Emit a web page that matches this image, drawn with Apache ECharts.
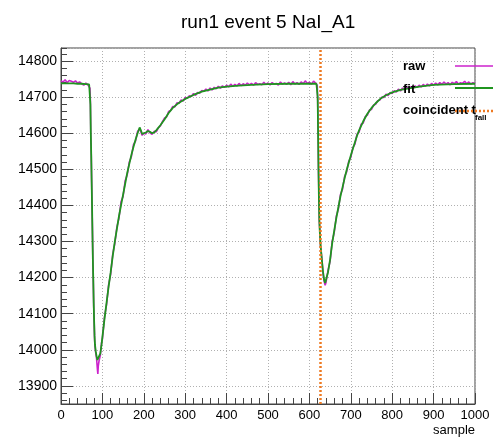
<!DOCTYPE html>
<html>
<head>
<meta charset="utf-8">
<script src="https://cdn.jsdelivr.net/npm/echarts@6/dist/echarts.min.js"></script>
<style>html,body{margin:0;padding:0;background:#fff;}#c{width:493px;height:437px;}</style>
</head>
<body>
<div id="c"></div>
<script>
var titleText = 'run1 event 5 NaI_A1';
var xTitle = 'sample';
var legendNames = ['raw', 'fit', 'coincident t'];
var tFall = 626;

var rawSamples = [0,5,10,15,20,25,30,35,40,45,50,55,60,65,68,70,71,72,73,74,75,76,77,78,79,80,81,82,84,86,88,89,90,92,95,98,100,105,110,115,120,125,130,135,140,145,150,155,160,165,170,175,180,185,190,193,196,200,205,210,215,220,225,230,235,240,245,250,255,260,265,270,275,280,285,290,295,300,305,310,315,320,325,330,335,340,345,350,355,360,365,370,375,380,385,390,395,400,405,410,415,420,425,430,435,440,445,450,455,460,465,470,475,480,485,490,495,500,505,510,515,520,525,530,535,540,545,550,555,560,565,570,575,580,585,590,595,600,605,610,615,617,619,620,621,622,623,624,625,627,630,633,636,638,640,645,650,655,660,665,670,675,680,685,690,695,700,705,710,715,720,725,730,735,740,745,750,755,760,765,770,775,780,785,790,795,800,805,810,815,820,825,830,835,840,845,850,855,860,865,870,875,880,885,890,895,900,905,910,915,920,925,930,935,940,945,950,955,960,965,970,975,980,985,990,995,1000];
var rawValues = [14745,14742,14748,14740,14746,14744,14741,14745,14739,14742,14737,14733,14739,14734,14737,14725,14690,14590,14545,14465,14395,14330,14240,14195,14120,14085,14035,14010,13990,13975,13945,13933,13955,13970,13985,14020,14030,14090,14125,14180,14210,14265,14295,14340,14365,14410,14425,14468,14485,14520,14535,14568,14578,14605,14612,14604,14594,14600,14598,14610,14601,14597,14605,14604,14615,14620,14632,14642,14645,14660,14663,14674,14673,14684,14683,14692,14689,14699,14697,14704,14702,14710,14705,14713,14711,14718,14716,14722,14717,14725,14720,14727,14723,14730,14725,14731,14727,14733,14728,14736,14730,14735,14731,14738,14732,14737,14733,14739,14734,14738,14733,14740,14735,14737,14734,14741,14735,14739,14734,14740,14736,14738,14733,14742,14736,14739,14735,14741,14734,14743,14736,14740,14735,14742,14737,14745,14738,14741,14736,14744,14739,14740,14732,14690,14610,14490,14425,14355,14335,14285,14255,14210,14188,14179,14186,14220,14245,14300,14325,14370,14390,14430,14445,14480,14493,14522,14533,14560,14570,14597,14603,14625,14628,14646,14650,14664,14666,14678,14680,14690,14692,14700,14699,14708,14704,14713,14710,14718,14714,14722,14717,14725,14720,14728,14722,14729,14724,14731,14727,14733,14728,14735,14730,14736,14731,14738,14733,14739,14734,14740,14735,14742,14736,14740,14734,14741,14737,14743,14736,14740,14738,14744,14737,14742,14736,14740,14738];

var fitSamples = [0,10,20,30,40,50,60,68,70,71,72,73,74,75,76,77,78,79,80,81,82,84,86,88,90,92,95,98,100,105,110,115,120,125,130,135,140,145,150,155,160,165,170,175,180,185,190,193,196,200,205,210,215,220,225,230,240,250,260,270,280,290,300,320,340,360,380,400,430,460,500,550,600,617,619,620,621,622,623,624,625,627,630,633,636,638,640,645,650,655,660,665,670,675,680,685,690,695,700,705,710,715,720,730,740,750,760,772,785,800,820,844,870,900,950,1000];
var fitValues = [14738,14738,14738,14738,14737,14737,14736,14735,14730,14680,14600,14540,14470,14400,14320,14250,14190,14130,14080,14040,14015,13995,13982,13972,13968,13975,13990,14015,14035,14085,14130,14175,14215,14260,14300,14335,14370,14400,14430,14460,14490,14515,14540,14562,14582,14600,14616,14608,14598,14596,14602,14606,14604,14600,14602,14608,14622,14638,14656,14670,14680,14688,14695,14706,14715,14721,14726,14729,14732,14734,14736,14737,14737,14737,14734,14700,14600,14500,14420,14360,14330,14290,14250,14215,14192,14185,14190,14215,14250,14295,14330,14365,14395,14425,14450,14475,14498,14518,14538,14557,14575,14593,14608,14633,14654,14670,14683,14696,14705,14713,14720,14725,14730,14734,14736,14737];

var yMin = 13850, yMax = 14836;
var xMin = 0, xMax = 1000, xStep = 100;

function pairs(xs, ys) { return xs.map(function (x, i) { return [x, ys[i]]; }); }
function plain(v) { return String(v); }

var FONT = 'Liberation Sans';
var chart = echarts.init(document.getElementById('c'), null, {renderer: 'canvas'});
var gridCol = '#b0b0b0';
chart.setOption({
  animation: false,
  backgroundColor: '#fff',
  title: {
    text: titleText, left: 176, top: 8,
    textStyle: {fontFamily: FONT, fontSize: 19, fontWeight: 'normal', color: '#000'}
  },
  grid: {left: 61, right: 18, top: 48, bottom: 33, show: true, borderColor: '#444', borderWidth: 1},
  xAxis: {
    type: 'value', min: xMin, max: xMax, interval: xStep,
    name: xTitle, nameLocation: 'end', nameGap: 0,
    nameTextStyle: {fontFamily: FONT, fontSize: 13, color: '#000', align: 'right', verticalAlign: 'top', padding: [20, 0, 0, 0]},
    axisLine: {show: true, lineStyle: {color: '#444'}},
    axisTick: {show: true, inside: true, length: 11, lineStyle: {color: '#444'}},
    minorTick: {show: true, splitNumber: 5, length: 6, lineStyle: {color: '#444'}},
    axisLabel: {fontFamily: FONT, fontSize: 13, color: '#000', margin: 5, formatter: plain},
    splitLine: {show: true, lineStyle: {color: gridCol, type: [1, 2], width: 1}}
  },
  yAxis: [{
    type: 'value', min: yMin, max: yMax, splitNumber: 10,
    axisLine: {show: true, lineStyle: {color: '#444'}},
    axisTick: {show: true, inside: true, length: 12, lineStyle: {color: '#444'}},
    axisLabel: {fontFamily: FONT, fontSize: 14, color: '#000', margin: 4, showMinLabel: false, showMaxLabel: false, formatter: plain},
    splitLine: {show: true, lineStyle: {color: gridCol, type: [1, 2], width: 1}}
  }, {
    type: 'value', min: yMin, max: yMax, splitNumber: 50, position: 'left',
    axisLine: {show: false},
    axisTick: {show: true, inside: true, length: 6, lineStyle: {color: '#444'}},
    axisLabel: {show: false},
    splitLine: {show: false}
  }],
  series: [{
    type: 'line', name: 'raw', data: pairs(rawSamples, rawValues), showSymbol: false, symbol: 'none',
    lineStyle: {color: '#cc22cc', width: 1.6}, z: 2
  }, {
    type: 'line', name: 'fit', data: pairs(fitSamples, fitValues), showSymbol: false, symbol: 'none',
    lineStyle: {color: '#1f951f', width: 1.8}, z: 3,
    markLine: {
      silent: true, symbol: ['none', 'none'], label: {show: false},
      lineStyle: {color: '#ee7a22', type: [2, 2], width: 2.5},
      data: [{xAxis: tFall}]
    }
  }],
  graphic: [
    {type: 'text', left: 403, top: 60, z: 10, style: {text: legendNames[0], font: 'bold 13px "Liberation Sans"', fill: '#000'}},
    {type: 'text', left: 403, top: 83, z: 10, style: {text: legendNames[1], font: 'bold 13px "Liberation Sans"', fill: '#000'}},
    {type: 'text', left: 403, top: 104, z: 10, style: {text: legendNames[2], font: 'bold 13px "Liberation Sans"', fill: '#000'}},
    {type: 'text', left: 475, top: 114, z: 10, style: {text: 'fall', font: 'bold 8px "Liberation Sans"', fill: '#000'}},
    {type: 'line', z: 10, shape: {x1: 455, y1: 66, x2: 493, y2: 66}, style: {stroke: '#cc22cc', lineWidth: 1.6}},
    {type: 'line', z: 10, shape: {x1: 455, y1: 88, x2: 493, y2: 88}, style: {stroke: '#1f951f', lineWidth: 1.8}},
    {type: 'line', z: 10, shape: {x1: 455, y1: 111, x2: 493, y2: 111}, style: {stroke: '#ee7a22', lineWidth: 2.5, lineDash: [2, 2]}}
  ]
});
</script>
</body>
</html>
